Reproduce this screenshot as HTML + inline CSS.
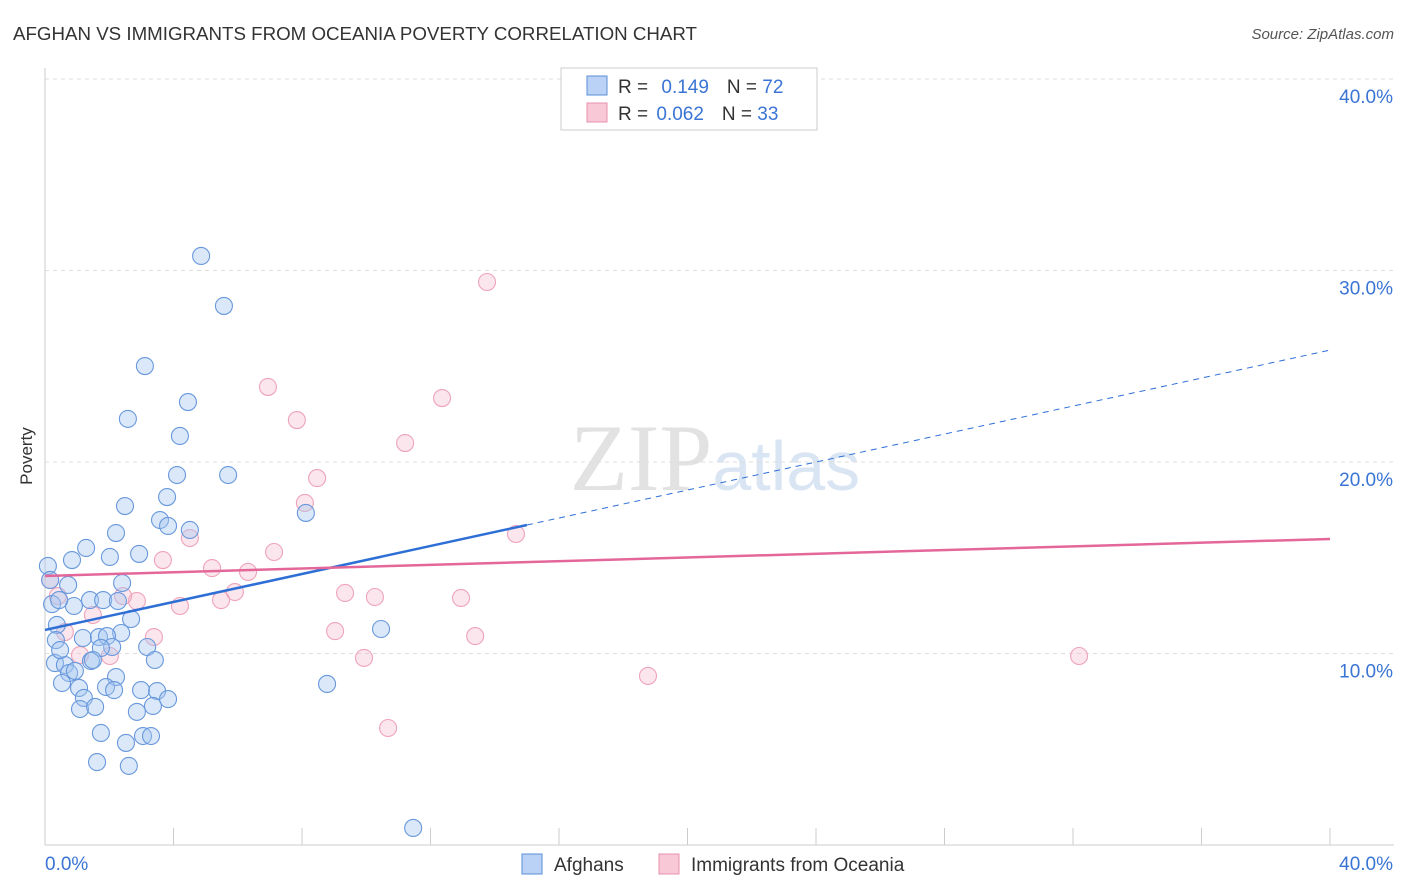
<!DOCTYPE html>
<html><head><meta charset="utf-8"><style>
body{margin:0;background:#fff;font-family:"Liberation Sans",sans-serif;}
svg{display:block}
</style></head><body>
<svg id="c" width="1406" height="892">
<text x="13" y="40" font-size="18" fill="#333" textLength="684" lengthAdjust="spacingAndGlyphs">AFGHAN VS IMMIGRANTS FROM OCEANIA POVERTY CORRELATION CHART</text>
<text x="1394" y="39" font-size="15" fill="#555" font-style="italic" text-anchor="end">Source: ZipAtlas.com</text>
<text x="32" y="456" font-size="17" fill="#333" transform="rotate(-90 32 456)" text-anchor="middle">Poverty</text>
<text x="715" y="490" font-size="95" fill="#e2e2e2" text-anchor="middle" font-family="Liberation Serif,serif">ZIP<tspan fill="#dae5f4" font-family="Liberation Sans,sans-serif" font-size="70">atlas</tspan></text>
<g id="grid"></g><g id="marks"></g>
<g>
<rect x="561" y="68" width="256" height="62" fill="#fff" stroke="#ccc"/>
<rect x="587" y="76" width="20" height="19" fill="#b9d2f5" stroke="#5b8fd8"/>
<rect x="587" y="103" width="20" height="19" fill="#f9c8d6" stroke="#e892ad"/>
<text x="618" y="93" font-size="19" fill="#333">R = <tspan fill="#3a74d4" dx="8">0.149</tspan><tspan dx="18" fill="#333">N = </tspan><tspan fill="#3a74d4">72</tspan></text>
<text x="618" y="120" font-size="19" fill="#333">R = <tspan fill="#3a74d4" dx="3">0.062</tspan><tspan dx="18" fill="#333">N = </tspan><tspan fill="#3a74d4">33</tspan></text>
</g>
<g>
<rect x="522" y="854" width="20" height="20" fill="#b9d2f5" stroke="#5b8fd8"/>
<text x="554" y="871" font-size="19" fill="#333">Afghans</text>
<rect x="659" y="854" width="20" height="20" fill="#f9c8d6" stroke="#e892ad"/>
<text x="691" y="871" font-size="19" fill="#333">Immigrants from Oceania</text>
</g>
</svg>
<script>
const blueX=[4.86,5.57,3.11,2.58,4.45,4.20,4.11,5.70,3.80,2.49,3.58,3.83,4.51,2.21,8.12,1.28,2.93,2.02,0.84,0.09,0.16,2.40,0.72,1.40,1.81,2.27,0.90,0.22,0.44,2.68,0.37,2.37,1.18,1.68,1.93,0.34,2.09,1.74,3.18,10.46,0.31,0.62,1.43,1.49,0.75,3.42,0.93,2.21,0.53,1.06,1.90,2.15,2.99,3.49,8.78,1.21,3.83,3.36,1.09,1.56,2.86,1.74,3.05,3.30,2.52,1.62,2.61,11.46,0.47];
const blueY=[30.76,28.15,25.01,22.25,23.13,21.36,19.32,19.32,18.17,17.70,16.97,16.66,16.45,16.29,17.34,15.51,15.20,15.04,14.88,14.57,13.84,13.68,13.58,12.79,12.79,12.74,12.48,12.58,12.79,11.80,11.49,11.07,10.81,10.86,10.91,10.70,10.34,10.29,10.34,11.28,9.50,9.40,9.61,9.66,8.98,9.66,9.09,8.77,8.46,8.20,8.25,8.09,8.09,8.04,8.41,7.68,7.62,7.26,7.10,7.21,6.95,5.85,5.69,5.69,5.33,4.33,4.13,0.89,10.18];
const pinkX=[13.76,6.94,7.84,12.36,11.21,8.47,8.09,4.51,3.67,5.20,6.32,7.13,5.91,5.48,4.20,2.86,2.43,1.49,0.62,3.39,2.02,1.09,9.34,10.27,12.95,9.03,9.93,13.39,14.66,18.77,32.19,10.68,0.16,0.40];
const pinkY=[29.40,23.92,22.19,23.34,20.99,19.16,17.86,16.03,14.88,14.46,14.26,15.30,13.21,12.79,12.48,12.74,13.00,12.01,11.12,10.86,9.87,9.92,13.16,12.95,12.90,11.17,9.77,10.91,16.24,8.83,9.87,6.11,13.84,13.00];
const yTicks=[10,20,30,40];
const blueTrend=[11.23,16.71,15.0];
const pinkTrend=[14.05,15.98];
const NS='http://www.w3.org/2000/svg';
const sx=v=>45+v/40*1285, sy=v=>845-v*19.15;
function mk(t,a,p){const e=document.createElementNS(NS,t);for(const k in a)e.setAttribute(k,a[k]);p.appendChild(e);return e;}
const g=document.getElementById('grid'),m=document.getElementById('marks');
mk('line',{x1:45,y1:68,x2:45,y2:845,stroke:'#ccc'},g);
mk('line',{x1:45,y1:845,x2:1394,y2:845,stroke:'#ccc'},g);
for(let i=1;i<=10;i++){const x=sx(i*4);mk('line',{x1:x,y1:828,x2:x,y2:845,stroke:'#ccc'},g);}
yTicks.forEach(t=>{
const l=mk('line',{x1:45,y1:sy(t),x2:1394,y2:sy(t),stroke:'#ddd','stroke-dasharray':'4,4'},g);


const tx=mk('text',{x:1393,y:sy(t)+24,'font-size':19,fill:'#3a74d4','text-anchor':'end'},g);tx.textContent=t.toFixed(1)+'%';


});
const x0=mk('text',{x:45,y:870,'font-size':19,fill:'#3a74d4'},g);x0.textContent='0.0%';


const x1=mk('text',{x:1393,y:870,'font-size':19,fill:'#3a74d4','text-anchor':'end'},g);x1.textContent='40.0%';


pinkX.forEach((x,i)=>{const c=mk('circle',{cx:sx(x),cy:sy(pinkY[i]),r:8.5,fill:'rgba(246,182,202,0.35)',stroke:'#eea3ba','stroke-width':1.1},m);

});
blueX.forEach((x,i)=>{const c=mk('circle',{cx:sx(x),cy:sy(blueY[i]),r:8.5,fill:'rgba(165,198,240,0.4)',stroke:'#6898dc','stroke-width':1.1},m);

});
const slope=(blueTrend[1]-blueTrend[0])/blueTrend[2];
const bl=mk('line',{x1:sx(0),y1:sy(blueTrend[0]),x2:sx(blueTrend[2]),y2:sy(blueTrend[1]),stroke:'#2e6fd6','stroke-width':2.5},m);


const bd=mk('line',{x1:sx(blueTrend[2]),y1:sy(blueTrend[1]),x2:sx(40),y2:sy(blueTrend[0]+slope*40),stroke:'#2e6fd6','stroke-width':1,'stroke-dasharray':'6,5'},m);


const pl=mk('line',{x1:sx(0),y1:sy(pinkTrend[0]),x2:sx(40),y2:sy(pinkTrend[1]),stroke:'#e4679a','stroke-width':2.5},m);


</script>
</body></html>
